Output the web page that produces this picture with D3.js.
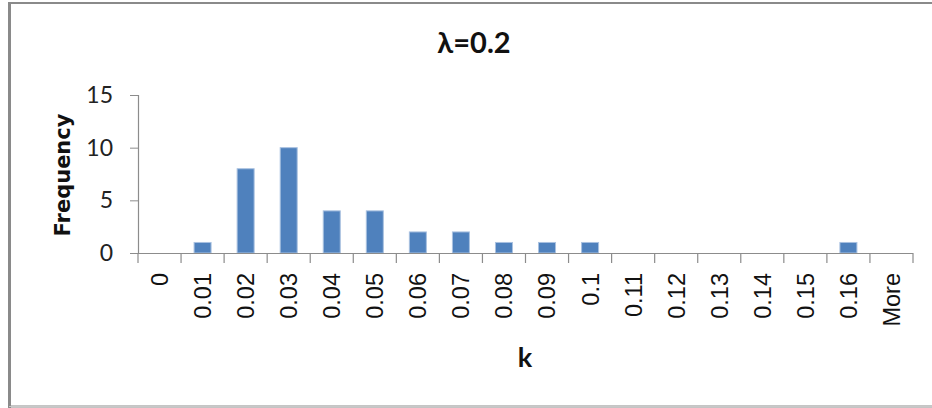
<!DOCTYPE html>
<html>
<head>
<meta charset="utf-8">
<script src="https://cdn.jsdelivr.net/npm/d3@7"></script>
<style>
  html, body { margin: 0; padding: 0; background: #fff; }
  svg { display: block; }
</style>
</head>
<body>
<svg id="chart" width="932" height="408"></svg>
<script>
const categories = ["0","0.01","0.02","0.03","0.04","0.05","0.06","0.07","0.08","0.09","0.1","0.11","0.12","0.13","0.14","0.15","0.16","More"];
const frequency = [0,1,8,10,4,4,2,2,1,1,1,0,0,0,0,0,1,0];
const yTicks = [0,5,10,15];
const title = "λ=0.2";
const xTitle = "k";
const yTitle = "Frequency";

const svg = d3.select("#chart");

// outer frame
svg.append("rect").attr("x", 9.5).attr("y", 3).attr("width", 940).attr("height", 403.5)
  .attr("fill", "#fff").attr("stroke", "#8a8a8a").attr("stroke-width", 2);
svg.append("line").attr("x1", 9.5).attr("x2", 9.5).attr("y1", 2).attr("y2", 408)
  .attr("stroke", "#8a8a8a").attr("stroke-width", 3);
svg.append("line").attr("x1", 9).attr("x2", 932).attr("y1", 406.5).attr("y2", 406.5)
  .attr("stroke", "#c8c8c8").attr("stroke-width", 1);

const plotLeft = 138, plotRight = 913, plotTop = 95, plotBottom = 253;

const xb = d3.scaleBand().domain(categories).range([plotLeft, plotRight]);
const y = d3.scaleLinear().domain([0, 15]).range([plotBottom, plotTop]);

// bars
svg.append("g").selectAll("rect").data(categories).join("rect")
  .attr("x", d => xb(d) + xb.bandwidth() / 2 - 8.5)
  .attr("width", 17)
  .attr("y", (d, i) => y(frequency[i]))
  .attr("height", (d, i) => y(0) - y(frequency[i]))
  .attr("fill", "#4F81BD")
  .attr("stroke", (d, i) => frequency[i] > 0 ? "#A9C1E0" : "none")
  .attr("stroke-width", 1);

// y axis
const yAxis = svg.append("g").attr("transform", `translate(${plotLeft},0)`)
  .call(d3.axisLeft(y).tickValues(yTicks).tickSize(8).tickPadding(17).tickFormat(d3.format("d")));
yAxis.select(".domain").attr("stroke", "#8c8c8c").attr("stroke-width", 1.2);
yAxis.selectAll(".tick line").attr("stroke", "#8c8c8c");
yAxis.selectAll("text").attr("font-family", "Lato, 'Open Sans', sans-serif")
  .attr("font-size", 23).attr("fill", "#222");

// x axis line and band boundary ticks
svg.append("line").attr("x1", plotLeft).attr("x2", plotRight).attr("y1", plotBottom + 0.5).attr("y2", plotBottom + 0.5)
  .attr("stroke", "#8c8c8c").attr("stroke-width", 1.2);
const bounds = categories.map(c => xb(c)).concat([plotRight]);
svg.append("g").selectAll("line").data(bounds).join("line")
  .attr("x1", d => d).attr("x2", d => d)
  .attr("y1", plotBottom).attr("y2", plotBottom + 10)
  .attr("stroke", "#8c8c8c").attr("stroke-width", 1.2);

// x tick labels (rotated)
svg.append("g").selectAll("text").data(categories).join("text")
  .attr("transform", d => `translate(${xb(d) + xb.bandwidth() / 2},${273}) rotate(-90)`)
  .attr("text-anchor", "end")
  .attr("dy", "0.36em")
  .attr("font-family", "'Liberation Sans', Arial, sans-serif")
  .attr("font-size", 23.5)
  .attr("fill", "#111")
  .text(d => d);

// title
svg.append("text").attr("x", 474).attr("y", 53).attr("text-anchor", "middle")
  .attr("font-family", "Lato, sans-serif").attr("font-weight", "bold")
  .attr("font-size", 29).attr("fill", "#111").text(title);

// x title
svg.append("text").attr("x", 525).attr("y", 367).attr("text-anchor", "middle")
  .attr("font-family", "Lato, sans-serif").attr("font-weight", "bold")
  .attr("font-size", 27).attr("fill", "#111").text(xTitle);

// y title
svg.append("text").attr("transform", "translate(70,175) rotate(-90)")
  .attr("text-anchor", "middle")
  .attr("font-family", "'DejaVu Sans', sans-serif").attr("font-weight", "bold")
  .attr("font-size", 21).attr("fill", "#111").text(yTitle);
</script>
</body>
</html>
